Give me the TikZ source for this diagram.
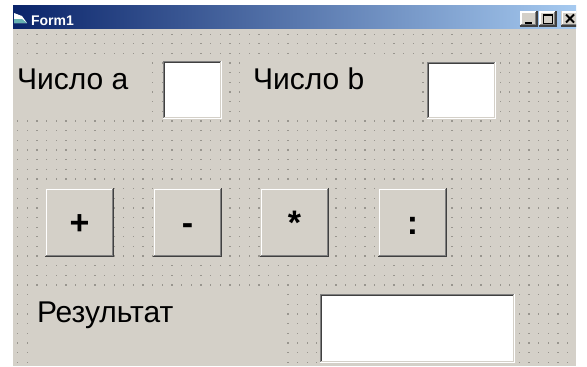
\documentclass[tikz,border=0pt]{standalone}
\usepackage{fontspec}
\setmainfont{Liberation Sans}
\usetikzlibrary{positioning}

\definecolor{formbg}{HTML}{D4D0C8}
\definecolor{navy}{HTML}{0A246A}
\definecolor{skyblue}{HTML}{A6CAF0}
\definecolor{edgegray}{HTML}{808080}
\definecolor{edgedark}{HTML}{404040}
\definecolor{griddot}{HTML}{98958E}

\begin{document}
\begin{tikzpicture}[x=1pt,y=-1pt,
                    every node/.style={inner sep=0pt,outer sep=0pt},
                    button/.style={rectangle,fill=formbg,minimum width=69pt,minimum height=69pt,
                                   text height=23pt,text depth=0pt,font=\bfseries\fontsize{34}{40}\selectfont},
                    txtbox/.style 2 args={rectangle,fill=white,minimum width=#1,minimum height=#2},
                    caption/.style={anchor=base west,font=\fontsize{30}{36}\selectfont},
                    capbtn/.style={rectangle,fill=formbg,minimum width=18pt,minimum height=16pt}]

\useasboundingbox (0,0) rectangle (587,367);
\begin{scope}
\clip (13,5) rectangle (576,366);
\fill[formbg] (13,5) rectangle (576,366);

% title bar
\shade[left color=navy,right color=skyblue] (13,5) rectangle (576,28);
\fill[white] (14,13) -- (22,16) -- (27,23) -- (14,23) -- cycle;
\fill[teal!60] (14,19) -- (22,19) -- (27,23) -- (14,23) -- cycle;
\node[anchor=base west,text=white,font=\bfseries\fontsize{14}{14}\selectfont] (title) at (31,25) {Form1};

\node[capbtn] (bmin) at (528.5,18.5) {};
\node[capbtn] (bmax) at (547.5,18.5) {};
\node[capbtn] (bclose) at (570,18.5) {};
\draw[line width=2pt] ([shift={(-4,4)}]bmin.center) -- ++(7,0);
\draw[line width=1pt] ([shift={(-4.5,-4.5)}]bmax.center) rectangle ++(9,9);
\draw[line width=2pt] ([shift={(-4.5,-4)}]bmax.center) -- ++(9,0);
\draw[line width=1.8pt] ([shift={(-4,-4)}]bclose.center) -- ++(8,8)
                        ([shift={(4,-4)}]bclose.center) -- ++(-8,8);

% grid of the form
\foreach \i in {0,...,57}
  \foreach \j in {0,...,34}
    \fill[griddot] (17+9.65*\i,33.5+9.65*\j) rectangle ++(1.3,1.3);

% labels
\fill[formbg] (13,56) rectangle (149,115);
\fill[formbg] (245,57) rectangle (414,115);
\fill[formbg] (30,290) rectangle (285,366);
\node[caption] (capa) at (17,89.5) {Число a};
\node[caption] (capb) at (253,89) {Число b};
\node[caption] (capres) at (37,322) {Результат};

% text boxes
\node[txtbox={59pt}{58pt}] (numa) at (192.5,90) {};
\node[txtbox={69pt}{57pt}] (numb) at (461.5,90.5) {};
\node[txtbox={195pt}{69pt}] (res) at (417.5,328.5) {};

% buttons
\node[button] (bplus) at (79.5,222.5) {+};
\node[button,right=39pt of bplus] (bminus) {-};
\node[button,right=38pt of bminus] (bmul) {*};
\node[button,right=49pt of bmul] (bdiv) {:};

\foreach \b in {bplus,bminus,bmul,bdiv,bmin,bmax,bclose} {
  \draw[white,line width=1.5pt] ([shift={(1.25,-1)}]\b.south west) |- ([shift={(-1,1.25)}]\b.north east);
  \draw[edgedark,line width=1.2pt] ([shift={(0,-0.6)}]\b.south west) -| ([shift={(-0.6,0)}]\b.north east);
  \draw[edgegray,line width=1.2pt] ([shift={(1.2,-1.8)}]\b.south west) -| ([shift={(-1.8,1.2)}]\b.north east);
}
\foreach \t in {numa,numb,res} {
  \draw[edgegray,line width=1.2pt] ([shift={(0.6,0)}]\t.south west) |- ([shift={(0,0.6)}]\t.north east);
  \draw[edgedark,line width=1.2pt] ([shift={(1.8,-1.2)}]\t.south west) |- ([shift={(-1.2,1.8)}]\t.north east);
  \draw[white,line width=1.2pt] ([shift={(0,-0.6)}]\t.south west) -| ([shift={(-0.6,0)}]\t.north east);
  \draw[formbg,line width=1.2pt] ([shift={(1.2,-1.8)}]\t.south west) -| ([shift={(-1.8,1.2)}]\t.north east);
}
\end{scope}
\end{tikzpicture}
\end{document}
